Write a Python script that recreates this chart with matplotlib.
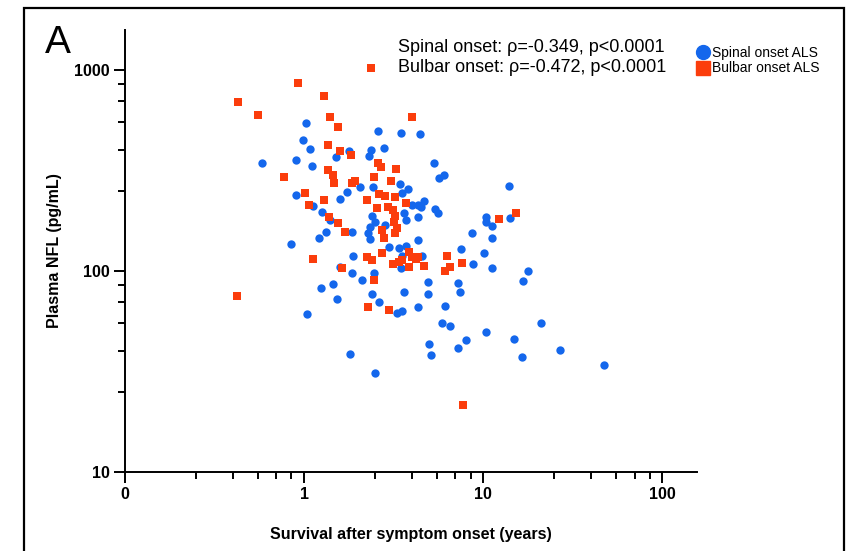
import matplotlib
matplotlib.use("Agg")
import matplotlib.pyplot as plt
from matplotlib.lines import Line2D
from matplotlib.patches import Rectangle

plt.rcParams['font.family'] = ['Liberation Sans', 'DejaVu Sans']

# Spinal onset ALS: survival (years), plasma NFL (pg/mL)
spinal_years = [1.03, 0.99, 1.08, 0.58, 0.90, 1.11, 1.51, 1.78, 2.30, 2.36, 2.78, 2.58, 3.46, 4.41,
                5.34, 5.70, 6.07, 13.9, 0.90, 1.12, 1.26, 1.58, 1.73, 2.05, 2.42, 3.41, 3.78, 3.50,
                3.98, 4.35, 4.70, 4.47, 5.41, 5.62, 3.59, 3.69, 4.30, 2.39, 2.48, 2.33, 2.27, 2.33,
                2.82, 1.39, 1.32, 1.21, 1.85, 0.85, 2.97, 3.37, 3.69, 4.35, 3.50, 3.46, 4.58, 1.87,
                1.58, 1.85, 2.10, 2.45, 1.24, 1.45, 1.53, 1.04, 2.39, 2.61, 3.59, 3.50, 3.29, 4.30,
                4.89, 4.89, 6.15, 5.92, 6.56, 5.01, 5.14, 7.26, 8.05, 10.3, 14.9, 7.26, 7.45, 7.55,
                8.80, 10.1, 11.2, 11.2, 11.2, 10.4, 10.4, 8.69, 14.1, 17.8, 16.7, 21.0, 16.5, 26.8,
                47.0, 1.80, 2.48]
spinal_nfl = [545, 449, 405, 344, 356, 333, 369, 395, 373, 400, 409, 497, 486, 481,
              344, 290, 300, 265, 239, 210, 197, 228, 247, 262, 262, 271, 256, 244,
              213, 213, 223, 208, 203, 194, 194, 179, 186, 188, 175, 166, 155, 144,
              169, 179, 156, 146, 156, 136, 132, 130, 133, 143, 119, 103, 119, 119,
              105, 97.7, 90.2, 97.7, 82.2, 86.1, 72.6, 61.1, 76.9, 70.2, 78.7, 63.2, 61.8, 66.2,
              88.1, 76.9, 67.0, 55.1, 53.2, 43.4, 38.2, 41.4, 45.4, 49.7, 45.9, 87.1, 78.7, 129,
              108, 123, 103, 167, 146, 186, 175, 155, 184, 100, 89.2, 55.1, 37.3, 40.4,
              34.0, 38.6, 31.1]

# Bulbar onset ALS
bulbar_years = [0.43, 0.55, 0.93, 1.29, 2.36, 1.39, 1.55, 3.98, 1.36, 1.58, 1.82, 0.77, 1.36, 1.45,
                1.47, 1.85, 1.92, 2.58, 2.68, 3.24, 2.45, 3.04, 1.01, 1.29, 1.07, 2.24, 2.61, 2.82,
                3.20, 3.69, 2.55, 2.93, 3.12, 3.20, 3.16, 3.29, 3.20, 1.38, 1.55, 1.69, 2.71, 2.78,
                12.3, 15.2, 1.12, 1.63, 2.24, 2.39, 2.71, 3.12, 3.37, 3.50, 3.83, 3.98, 4.19, 4.35,
                4.70, 3.83, 6.31, 6.56, 6.15, 7.64, 2.45, 2.27, 2.97, 0.42, 7.74]
bulbar_nfl = [693, 597, 861, 743, 1023, 583, 520, 583, 424, 395, 378, 294, 318, 300,
              274, 274, 281, 344, 329, 321, 294, 281, 244, 225, 213, 225, 242, 236,
              233, 218, 206, 208, 201, 188, 175, 164, 155, 186, 173, 156, 160, 146,
              182, 194, 115, 103, 117, 113, 123, 108, 111, 113, 124, 117, 115, 117,
              106, 105, 119, 105, 100, 110, 90.2, 66.2, 63.9, 75.2, 21.5]

blue = '#1467ec'
red = '#fb3d0c'

fig = plt.figure(figsize=(8.51, 5.51), dpi=100)
ax = fig.add_axes([0.1469, 0.1434, 0.672, 0.8022])

ax.scatter(spinal_years, spinal_nfl, s=36, marker='o', color=blue, linewidths=0, zorder=3)
ax.scatter(bulbar_years, bulbar_nfl, s=40, marker='s', color=red, linewidths=0, zorder=4)

ax.set_xscale('log')
ax.set_yscale('log')
ax.set_xlim(0.1, 156)
ax.set_ylim(10, 1580)

for s in ['top', 'right']:
    ax.spines[s].set_visible(False)
for s in ['left', 'bottom']:
    ax.spines[s].set_linewidth(1.4)

ax.set_xticks([0.1, 1, 10, 100])
ax.set_xticklabels(['0', '1', '10', '100'])
ax.set_xticks([d * m for d in [0.1, 1, 10] for m in [2.5, 4, 5.5, 7, 8.5]], minor=True)
ax.set_yticks([10, 100, 1000])
ax.set_yticklabels(['10', '100', '1000'])
ax.set_yticks([d * m for d in [10, 100] for m in [2.5, 4, 5.5, 7, 8.5]], minor=True)
ax.xaxis.set_minor_formatter(plt.NullFormatter())
ax.yaxis.set_minor_formatter(plt.NullFormatter())

ax.tick_params(which='major', length=8, width=1.4, labelsize=11.5, pad=3)
ax.tick_params(which='minor', length=4.8, width=1.4)
for lab in ax.get_xticklabels() + ax.get_yticklabels():
    lab.set_fontweight('bold')

ax.set_xlabel('Survival after symptom onset (years)', fontsize=11.5, fontweight='bold')
ax.set_ylabel('Plasma NFL (pg/mL)', fontsize=11.5, fontweight='bold')
ax.xaxis.set_label_coords(0.5, -0.124)
ax.yaxis.set_label_coords(-0.110, 0.502)

fig.text(398 / 851, 1 - 47 / 551, 'Spinal onset: ρ=-0.349, p<0.0001', fontsize=13, va='center', ha='left')
fig.text(398 / 851, 1 - 68 / 551, 'Bulbar onset: ρ=-0.472, p<0.0001', fontsize=13, va='center', ha='left')

fig.text(45 / 851, 1 - 53 / 551, 'A', fontsize=28, va='baseline', ha='left')

handles = [Line2D([], [], marker='o', linestyle='', color=blue, markersize=10),
           Line2D([], [], marker='s', linestyle='', color=red, markersize=10)]
fig.legend(handles, ['Spinal onset ALS', 'Bulbar onset ALS'], loc='upper left',
           bbox_to_anchor=(697 / 851, 1 - 46 / 551), frameon=False, fontsize=10,
           handlelength=0.8, handletextpad=0.25, labelspacing=0.1, borderpad=0, borderaxespad=0)

fig.patches.append(Rectangle((24 / 851, -0.05), 820 / 851, 1.05 - 8 / 551, transform=fig.transFigure,
                             fill=False, edgecolor='black', linewidth=1.6))

fig.savefig('out.png', dpi=100)
